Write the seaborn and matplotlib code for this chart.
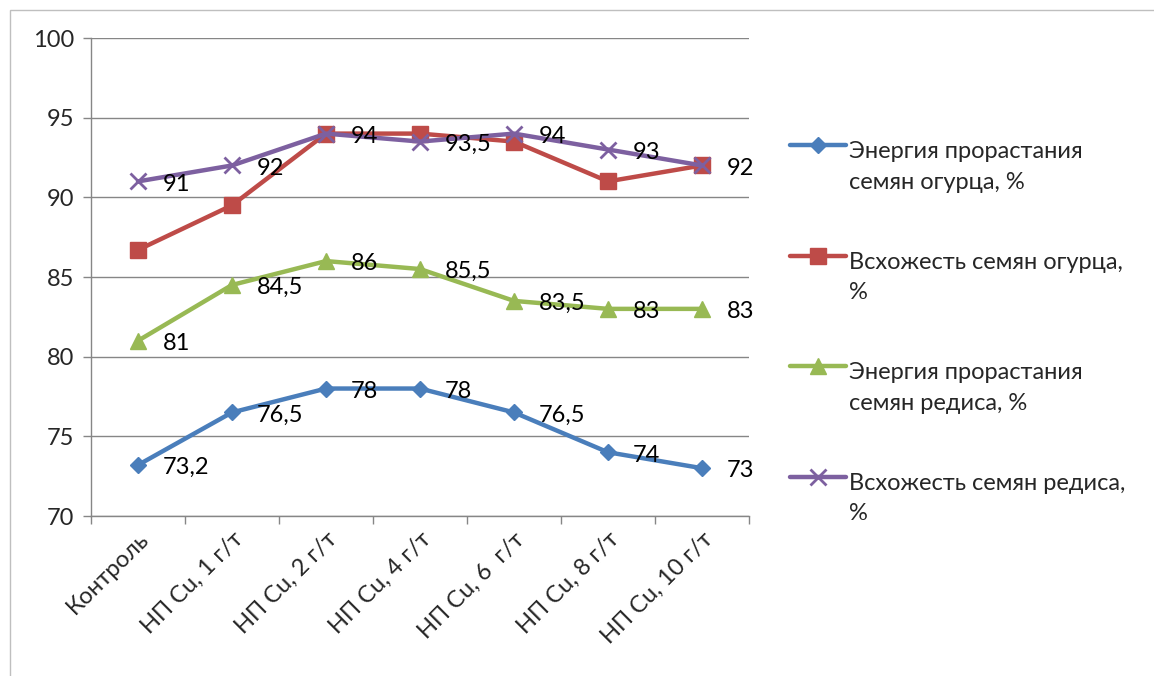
import matplotlib
matplotlib.use("Agg")
import matplotlib.pyplot as plt
import matplotlib.patches as mpatches
from matplotlib.lines import Line2D
from matplotlib.legend_handler import HandlerLine2D
import seaborn as sns
import pandas as pd

categories = ["Контроль", "НП Cu, 1 г/т", "НП Cu, 2 г/т", "НП Cu, 4 г/т",
              "НП Cu, 6  г/т", "НП Cu, 8 г/т", "НП Cu, 10 г/т"]
energy_cucumber = [73.2, 76.5, 78, 78, 76.5, 74, 73]
germ_cucumber = [86.7, 89.5, 94, 94, 93.5, 91, 92]
energy_radish = [81, 84.5, 86, 85.5, 83.5, 83, 83]
germ_radish = [91, 92, 94, 93.5, 94, 93, 92]

series_names = ["Энергия прорастания\nсемян огурца, %",
                "Всхожесть семян огурца,\n%",
                "Энергия прорастания\nсемян редиса, %",
                "Всхожесть семян редиса,\n%"]
series_values = [energy_cucumber, germ_cucumber, energy_radish, germ_radish]
labelled = [True, False, True, True]

colors = ["#4A7EBB", "#BE4B48", "#98B954", "#7D60A0"]
markers = ["D", "s", "^", "x"]
msizes = [8, 12, 12, 11]
FS = 17
LINESP = 1.55


class FirstLineHandler(HandlerLine2D):
    """Legend line handler that lines the key up with the first text line."""

    def __init__(self, shift, **kw):
        super().__init__(**kw)
        self.shift = shift

    def create_artists(self, legend, orig_handle, xdescent, ydescent,
                       width, height, fontsize, trans):
        return super().create_artists(legend, orig_handle, xdescent,
                                      ydescent - 2 * self.shift, width, height,
                                      fontsize, trans)


sns.set_theme(style="white")
plt.rcParams["font.family"] = ["Lato", "DejaVu Sans"]

rows = []
for name, vals in zip(series_names, series_values):
    for c, v in zip(categories, vals):
        rows.append({"cat": c, "val": v, "series": name})
df = pd.DataFrame(rows)

fig = plt.figure(figsize=(11.54, 6.76), dpi=100)
ax = fig.add_axes([91 / 1154, 1 - 516 / 676, (749 - 91) / 1154, (516 - 38) / 676])

for name, col, mk, ms in zip(series_names, colors, markers, msizes):
    sub = df[df["series"] == name]
    sns.lineplot(data=sub, x="cat", y="val", ax=ax, color=col, lw=3.2,
                 marker=mk, markersize=ms, markeredgecolor=col,
                 markeredgewidth=2 if mk == "x" else 1, sort=False,
                 label=name, legend=False)

# value labels to the right of points
for vals, show in zip(series_values, labelled):
    if not show:
        continue
    for i, v in enumerate(vals):
        txt = f"{v:g}".replace(".", ",")
        ax.annotate(txt, (i, v), xytext=(18, -2), textcoords="offset points",
                    ha="left", va="center", fontsize=FS, color="black")

ax.set_xlim(-0.5, len(categories) - 0.5)
ax.set_ylim(70, 100)
ax.set_yticks(range(70, 101, 5))
ax.set_xticks(range(len(categories)))
ax.set_xticklabels(categories, rotation=45, ha="right", va="top",
                   rotation_mode="anchor", fontsize=FS)
ax.tick_params(axis="x", which="major", length=0, pad=9)
ax.set_xticks([i - 0.5 for i in range(len(categories) + 1)], minor=True)
ax.tick_params(axis="x", which="minor", length=6, color="#868686", width=1,
               direction="out", bottom=True)
ax.tick_params(axis="y", length=6, color="#868686", width=1, direction="out",
               left=True, labelsize=FS, pad=6)
ax.set_xlabel("")
ax.set_ylabel("")
ax.grid(axis="y", color="#868686", lw=1)
ax.set_axisbelow(True)
for s in ["top", "right"]:
    ax.spines[s].set_visible(False)
for s in ["left", "bottom"]:
    ax.spines[s].set_color("#868686")
    ax.spines[s].set_linewidth(1)

handles, labels = ax.get_legend_handles_labels()
leg = fig.legend(handles, labels, loc="upper left",
                 bbox_to_anchor=(781 / 1154, 1 - 132 / 676),
                 frameon=False, fontsize=FS, handlelength=2.35, handletextpad=0.12,
                 labelspacing=2.5, borderaxespad=0,
                 handler_map={Line2D: FirstLineHandler(shift=0.6 * LINESP * FS)})
for t in leg.get_texts():
    t.set_linespacing(LINESP)

fig.patches.append(mpatches.Rectangle((10 / 1154, -0.1), 2, 1 - 10 / 676 + 0.1,
                                      transform=fig.transFigure, fill=False,
                                      ec="#BFBFBF", lw=1))

fig.savefig("out.png", dpi=100)
